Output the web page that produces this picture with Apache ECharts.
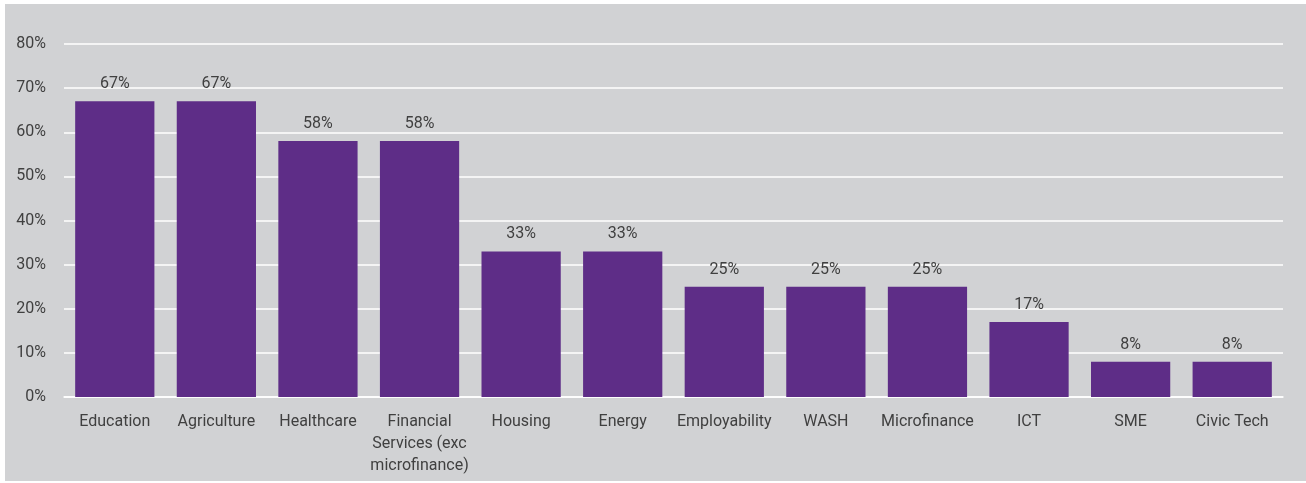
<!DOCTYPE html>
<html>
<head>
<meta charset="utf-8">
<script src="https://cdn.jsdelivr.net/npm/echarts@6/dist/echarts.min.js"></script>
<style>
html,body{margin:0;padding:0;background:#ffffff;}
#c{width:1306px;height:483px;}
</style>
</head>
<body>
<div id="c"></div>
<script>
const categories = ['Education','Agriculture','Healthcare','Financial\nServices (exc\nmicrofinance)','Housing','Energy','Employability','WASH','Microfinance','ICT','SME','Civic Tech'];
const values = [67,67,58,58,33,33,25,25,25,17,8,8];
const yTicks = {min:0, max:80, interval:10};

const chart = echarts.init(document.getElementById('c'), null, {renderer:'canvas'});
const txt = '#404040';
chart.setOption({
  backgroundColor:'#ffffff',
  animation:false,
  graphic:[{type:'rect', z:-10, silent:true, shape:{x:5,y:4,width:1301,height:477}, style:{fill:'#d1d2d4'}}],
  grid:{left:64, right:23, top:44, bottom:86},
  xAxis:{
    type:'category', data:categories,
    axisLine:{show:true, lineStyle:{color:'#ffffff', width:1.5}},
    axisTick:{show:false},
    axisLabel:{color:txt, fontFamily:'Roboto', fontWeight:'normal', fontSize:16, margin:14, lineHeight:22, interval:0}
  },
  yAxis:{
    type:'value', min:yTicks.min, max:yTicks.max, interval:yTicks.interval,
    axisLine:{show:false}, axisTick:{show:false},
    splitLine:{lineStyle:{color:'#ffffff', width:1.5}},
    axisLabel:{formatter:'{value}%', color:txt, fontFamily:'Roboto', fontWeight:'normal', fontSize:16, margin:18}
  },
  series:[{
    type:'bar', data:values, barWidth:'78%',
    itemStyle:{color:'#5e2d87'},
    label:{show:true, position:'top', distance:9, formatter:'{c}%', color:txt, fontFamily:'Roboto', fontWeight:'normal', fontSize:16}
  }]
});
</script>
</body>
</html>
